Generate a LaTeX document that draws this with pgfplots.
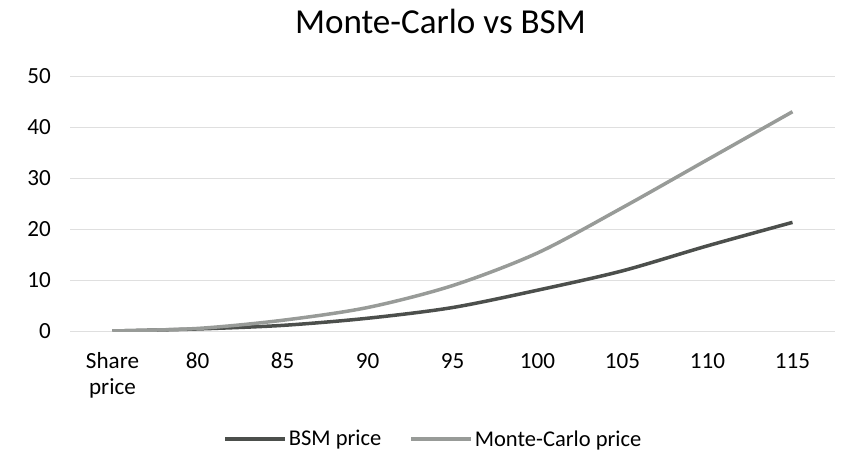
\documentclass[border=0pt]{standalone}
\usepackage{fontspec}
\setmainfont{Carlito}
\usepackage{pgfplots}
\pgfplotsset{compat=1.18}
\definecolor{bsm}{RGB}{76,79,76}
\definecolor{mc}{RGB}{152,155,152}
\newcommand{\sharelabel}{\vtop{\halign{\hfil##\hfil\cr Share\cr price\cr}}}
\begin{document}
\begin{tikzpicture}
\useasboundingbox (-70bp,-140bp) rectangle (782bp,331bp);
\begin{axis}[
  scale only axis, width=765bp, height=255bp,
  xmin=-0.5, xmax=8.5, ymin=0, ymax=50,
  xtick={0,...,8},
  xticklabels={\sharelabel,80,85,90,95,100,105,110,115},
  ytick={0,10,...,50},
  ymajorgrids, grid style={gray!25, line width=0.8bp},
  axis line style={draw=none},
  major tick length=0pt,
  tick label style={font=\fontsize{23.2}{26.5}\selectfont},
  xticklabel style={anchor=base, inner sep=0pt, yshift=-37bp},
  yticklabel style={anchor=east, inner sep=0pt, xshift=-19bp},
  /pgf/number format/assume math mode=true,
  title={Monte-Carlo vs BSM},
  title style={font=\fontsize{35.2}{40}\selectfont, at={(0.4843,1.1451)}, anchor=base, inner sep=0pt},
  legend columns=2,
  legend style={draw=none, fill=none, at={(0.475,-0.4235)}, anchor=center,
    font=\fontsize{22.6}{26}\selectfont,
    /tikz/every even column/.append style={column sep=26bp}},
  legend image code/.code={\draw[#1] (0bp,0bp) -- (60bp,0bp);},
]
\addplot[bsm, line width=3.5bp, smooth, tension=0.5] coordinates {
  (0,0) (1,0.4) (2,1.1) (3,2.5) (4,4.6) (5,8.0) (6,11.8) (7,16.7) (8,21.3)
};
\addplot[mc, line width=3.5bp, smooth, tension=0.5] coordinates {
  (0,0) (1,0.5) (2,2.1) (3,4.6) (4,8.9) (5,15.3) (6,24.2) (7,33.6) (8,43.0)
};
\legend{BSM price, Monte-Carlo price}
\end{axis}
\end{tikzpicture}
\end{document}
